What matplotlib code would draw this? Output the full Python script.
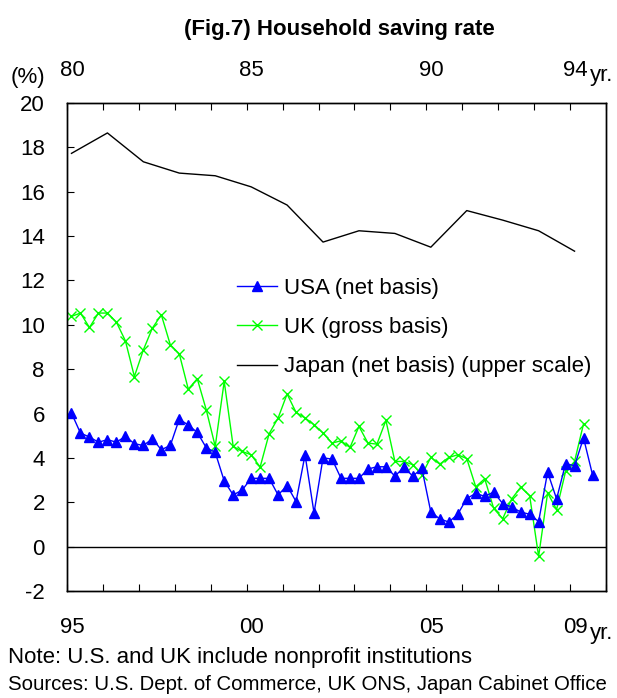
import numpy as np
import matplotlib
matplotlib.use("Agg")
import matplotlib.pyplot as plt
from matplotlib.lines import Line2D

plt.rcParams['font.family'] = ['Liberation Sans', 'DejaVu Sans']

# Quarterly household saving rates, 1995Q1 onwards (%)
usa = [6.02, 5.12, 4.94, 4.71, 4.82, 4.71, 4.97, 4.64, 4.56, 4.86,
       4.37, 4.56, 5.75, 5.48, 5.15, 4.46, 4.25, 2.96, 2.33, 2.55,
       3.08, 3.08, 3.08, 2.33, 2.75, 2.03, 4.14, 1.52, 4.00, 3.95,
       3.08, 3.08, 3.08, 3.50, 3.60, 3.60, 3.18, 3.57, 3.18, 3.53,
       1.56, 1.25, 1.11, 1.46, 2.17, 2.40, 2.27, 2.46, 1.94, 1.79,
       1.56, 1.46, 1.13, 3.36, 2.15, 3.74, 3.65, 4.90, 3.24]
uk = [10.38, 10.53, 9.88, 10.53, 10.53, 10.12, 9.28, 7.67, 8.87, 9.85,
      10.45, 9.10, 8.69, 7.10, 7.57, 6.17, 4.52, 7.45, 4.52, 4.29,
      4.14, 3.59, 5.09, 5.80, 6.88, 6.05, 5.80, 5.50, 5.12, 4.67,
      4.77, 4.47, 5.42, 4.67, 4.62, 5.69, 3.84, 3.84, 3.69, 3.24,
      4.02, 3.72, 4.02, 4.14, 3.97, 2.70, 3.06, 1.72, 1.26, 2.15,
      2.68, 2.30, -0.44, 2.42, 1.67, 3.39, 3.84, 5.54]

# Annual household saving rate, Japan, 1980-1994 (%)
japan_years = list(range(1980, 1995))
japan = [17.73, 18.65, 17.35, 16.84, 16.72, 16.22, 15.40, 13.73,
         14.24, 14.12, 13.50, 15.15, 14.72, 14.24, 13.32]

y_ticks = list(range(-2, 21, 2))
bottom_labels = ['95', '00', '05', '09']
bottom_label_years = [1995, 2000, 2005, 2009]
top_labels = ['80', '85', '90', '94']
top_label_years = [1980, 1985, 1990, 1994]

FS = 16
fig = plt.figure(figsize=(6.17, 6.98), dpi=100)
ax = fig.add_axes([67 / 617, 1 - 591 / 698, (606 - 67) / 617, (591 - 103) / 698])

x_usa = 1995 + (np.arange(len(usa)) + 0.5) / 4
x_uk = 1995 + (np.arange(len(uk)) + 0.5) / 4

ax.plot(x_usa, usa, color='#0000FF', lw=1.0, marker='^', ms=7.8,
        markeredgecolor='#0000FF', markerfacecolor='#0000FF', zorder=3)
ax.plot(x_uk, uk, color='#00FF00', lw=1.0, marker='x', ms=7.5,
        markeredgewidth=1.0, zorder=2)
ax.axhline(0, color='black', lw=1.0, zorder=1)

ax.set_xlim(1995, 2010)
ax.set_ylim(-2, 20)
ax.set_yticks(y_ticks)
ax.set_yticklabels([str(v) for v in y_ticks], fontsize=FS)
ax.set_xticks(range(1995, 2011))
ax.set_xticklabels([])
ax.set_xticks([y + 0.14 for y in bottom_label_years], minor=True)
ax.set_xticklabels(bottom_labels, minor=True, fontsize=FS)
ax.tick_params(axis='x', which='major', direction='in', length=5, width=0.8)
ax.tick_params(axis='x', which='minor', length=0, pad=19)
ax.tick_params(axis='y', direction='in', length=5, width=0.8, pad=16)

# Japan on the upper (1980-1995) scale
axt = ax.twiny()
axt.set_xlim(1980, 1995)
axt.plot([y + 0.125 for y in japan_years], japan, color='black', lw=1.0)
axt.set_xticks(range(1980, 1996))
axt.set_xticklabels([])
axt.set_xticks([y + 0.14 for y in top_label_years], minor=True)
axt.set_xticklabels(top_labels, minor=True, fontsize=FS)
axt.tick_params(axis='x', which='major', direction='in', length=5, width=0.8)
axt.tick_params(axis='x', which='minor', length=0, pad=16)

for a in (ax, axt):
    for s in a.spines.values():
        s.set_linewidth(1.0)

handles = [
    Line2D([], [], color='#0000FF', lw=1.0, marker='^', ms=7.8),
    Line2D([], [], color='#00FF00', lw=1.0, marker='x', ms=7.5),
    Line2D([], [], color='black', lw=1.0),
]
labels = ['USA (net basis)', 'UK (gross basis)', 'Japan (net basis) (upper scale)']
fig.legend(handles, labels, loc='upper left',
           bbox_to_anchor=(237 / 617, 1 - 278 / 698), frameon=False,
           fontsize=FS, handlelength=1.8, handletextpad=0.3,
           labelspacing=0.82, borderpad=0, borderaxespad=0)

fig.text(339 / 617, 1 - 30 / 698, '(Fig.7) Household saving rate',
         ha='center', va='center', fontsize=FS, fontweight='bold')
fig.text(28 / 617, 1 - 77 / 698, '(%)', ha='center', va='center', fontsize=FS)
fig.text(602 / 617, 1 - 76 / 698, 'yr.', ha='center', va='center', fontsize=FS)
fig.text(602 / 617, 1 - 633 / 698, 'yr.', ha='center', va='center', fontsize=FS)
fig.text(8 / 617, 1 - 657 / 698, 'Note: U.S. and UK include nonprofit institutions',
         ha='left', va='center', fontsize=FS)
fig.text(8 / 617, 1 - 684 / 698,
         'Sources: U.S. Dept. of Commerce, UK ONS, Japan Cabinet Office',
         ha='left', va='center', fontsize=14.7)

fig.savefig('out.png', dpi=100)
